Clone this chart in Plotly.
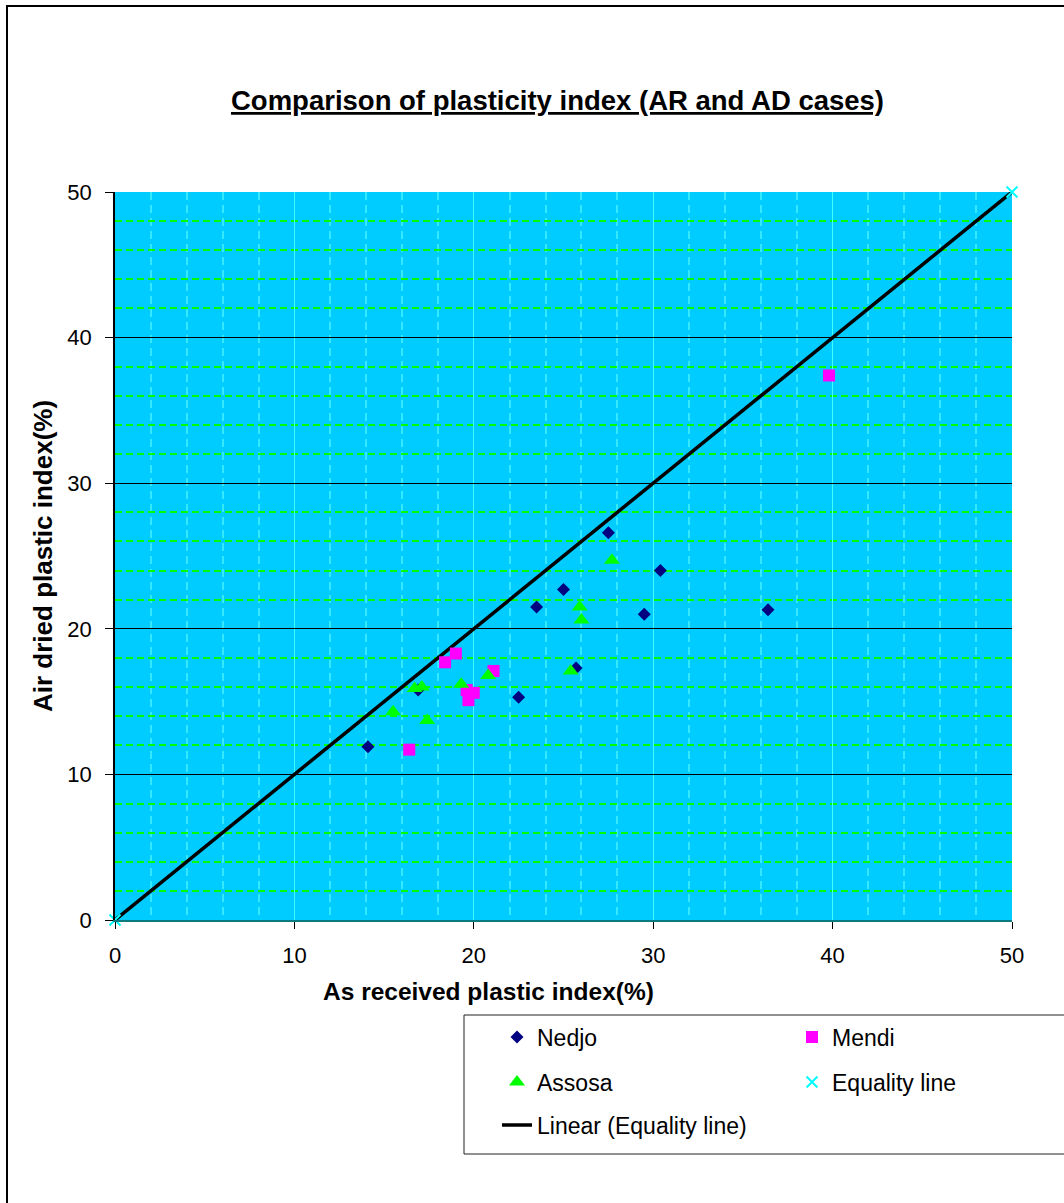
import numpy as np
import plotly.graph_objects as go

# ---------------- data ----------------
nedjo_x = [14.1, 16.9, 22.5, 23.5, 25.0, 25.7, 27.5, 29.5, 30.4, 36.4]
nedjo_y = [11.9, 15.8, 15.3, 21.5, 22.7, 17.3, 26.6, 21.0, 24.0, 21.3]

mendi_x = [16.4, 18.4, 19.0, 19.6, 20.0, 19.7, 21.1, 39.8]
mendi_y = [11.7, 17.7, 18.3, 15.8, 15.6, 15.1, 17.1, 37.4]

assosa_x = [15.5, 16.7, 17.1, 17.4, 19.3, 20.8, 25.4, 25.9, 26.0, 27.7]
assosa_y = [14.3, 15.9, 16.0, 13.7, 16.2, 16.8, 17.1, 21.5, 20.6, 24.7]

equality_x = [0, 50]
equality_y = [0, 50]

axis_min, axis_max, major_step, minor_step = 0, 50, 10, 2

# linear trendline fitted to the equality series
slope, intercept = np.polyfit(equality_x, equality_y, 1)
trend_x = [min(equality_x), max(equality_x)]
trend_y = [slope * v + intercept for v in trend_x]

# ---------------- layout helpers ----------------
W, H = 1064, 1203
L, R, T, B = 115, 52, 192, 283
PW, PH = W - L - R, H - T - B


def px_x(p):
    return (p - L) / PW


def px_y(p):
    return (H - B - p) / PH


FONT = "Liberation Sans, Arial, sans-serif"

fig = go.Figure()

fig.add_trace(go.Scatter(
    x=trend_x, y=trend_y, mode="lines", name="Linear (Equality line)",
    line=dict(color="black", width=3.5), legend="legend5", cliponaxis=False))
fig.add_trace(go.Scatter(
    x=nedjo_x, y=nedjo_y, mode="markers", name="Nedjo",
    marker=dict(symbol="diamond", size=10, color="#000080"), legend="legend"))
fig.add_trace(go.Scatter(
    x=mendi_x, y=mendi_y, mode="markers", name="Mendi",
    marker=dict(symbol="square", size=12, color="#FF00FF"), legend="legend2"))
fig.add_trace(go.Scatter(
    x=assosa_x, y=assosa_y, mode="markers", name="Assosa",
    marker=dict(symbol="triangle-up", size=14, color="#00FF00"), legend="legend3"))
fig.add_trace(go.Scatter(
    x=equality_x, y=equality_y, mode="markers", name="Equality line",
    marker=dict(symbol="x-thin", size=11, color="#00FFFF",
                line=dict(color="#00FFFF", width=2)),
    legend="legend4", cliponaxis=False))


def leg(text_x, yc):
    return dict(x=px_x(text_x - 40), y=px_y(yc), xanchor="left", yanchor="middle",
                bgcolor="rgba(0,0,0,0)", borderwidth=0,
                font=dict(family=FONT, size=23, color="black"))


fig.update_layout(
    width=W, height=H,
    margin=dict(l=L, r=R, t=T, b=B, autoexpand=False),
    paper_bgcolor="white",
    plot_bgcolor="#00CCFF",
    font=dict(family=FONT, color="black"),
    showlegend=True,
    legend=leg(537, 1037),
    legend2=leg(832, 1037),
    legend3=leg(537, 1082),
    legend4=leg(832, 1082),
    legend5=leg(537, 1125),
    xaxis=dict(
        range=[axis_min, axis_max], tickmode="linear", tick0=axis_min, dtick=major_step,
        showgrid=True, gridcolor="#40FFFF", gridwidth=1,
        minor=dict(tickmode="linear", tick0=axis_min, dtick=minor_step, showgrid=True,
                   gridcolor="#33E8FF", griddash="8px,5px", gridwidth=1.5),
        ticks="outside", ticklen=7, tickcolor="black", tickwidth=1,
        ticklabelstandoff=8,
        showline=True, linecolor="#0B7B80", linewidth=2,
        zeroline=False, tickfont=dict(family=FONT, size=22, color="black"),
        fixedrange=True),
    yaxis=dict(
        range=[axis_min, axis_max], tickmode="linear", tick0=axis_min, dtick=major_step,
        showgrid=True, gridcolor="black", gridwidth=1,
        minor=dict(tickmode="linear", tick0=axis_min, dtick=minor_step, showgrid=True,
                   gridcolor="#00FF00", griddash="7px,4px", gridwidth=1.5),
        ticks="outside", ticklen=8, tickcolor="black", tickwidth=1,
        ticklabelstandoff=9,
        showline=True, linecolor="black", linewidth=1.5,
        zeroline=False, tickfont=dict(family=FONT, size=22, color="black"),
        fixedrange=True),
    shapes=[
        dict(type="rect", xref="paper", yref="paper",
             x0=px_x(7), y0=px_y(6), x1=px_x(1120), y1=px_y(1260),
             line=dict(color="black", width=2), fillcolor="rgba(0,0,0,0)"),
        dict(type="rect", xref="paper", yref="paper",
             x0=px_x(464), y0=px_y(1015), x1=px_x(1120), y1=px_y(1154),
             line=dict(color="#222222", width=1), fillcolor="rgba(0,0,0,0)"),
    ],
    annotations=[
        dict(text="<b><u>Comparison of plasticity index (AR and AD cases)</u></b>",
             x=px_x(557), y=px_y(100), xref="paper", yref="paper",
             xanchor="center", yanchor="middle", showarrow=False,
             font=dict(family=FONT, size=27.5, color="black")),
        dict(text="<b>As received plastic index(%)</b>",
             x=px_x(488), y=px_y(991), xref="paper", yref="paper",
             xanchor="center", yanchor="middle", showarrow=False,
             font=dict(family=FONT, size=24.5, color="black")),
        dict(text="<b>Air dried plastic index(%)</b>", textangle=-90,
             x=px_x(43), y=px_y(556), xref="paper", yref="paper",
             xanchor="center", yanchor="middle", showarrow=False,
             font=dict(family=FONT, size=26, color="black")),
    ],
)

fig.write_html("out.html")
